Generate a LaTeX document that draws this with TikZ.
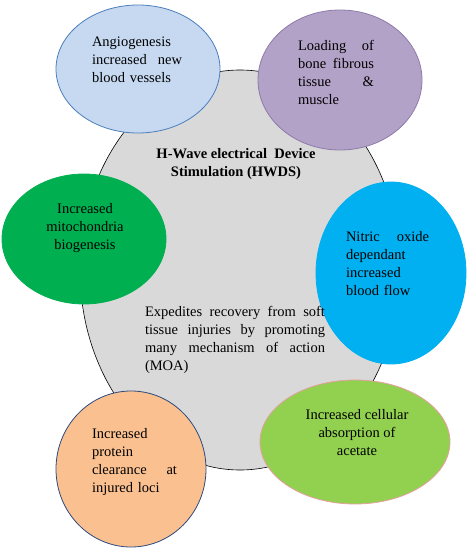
\documentclass[tikz,border=0pt]{standalone}
\usepackage{fontspec}
\setmainfont{Liberation Serif}
\usetikzlibrary{shapes.geometric}
\definecolor{hubfill}{HTML}{D9D9D9}
\definecolor{bluefill}{HTML}{C6D9F1}
\definecolor{blueline}{HTML}{4A7EBB}
\definecolor{purplefill}{HTML}{B3A2C7}
\definecolor{purpleline}{HTML}{8C7BA8}
\definecolor{greenfill}{HTML}{00B050}
\definecolor{cyanfill}{HTML}{00B0F0}
\definecolor{limefill}{HTML}{92D050}
\definecolor{limeline}{HTML}{E6A0A0}
\definecolor{orangefill}{HTML}{FAC090}
\definecolor{orangeline}{HTML}{2E4A7D}
\tikzset{
  blob/.style={ellipse, inner sep=0pt, line width=0.8pt},
  txt/.style={inner sep=0pt, font=\fontsize{14.5}{18}\selectfont, align=left},
  ctxt/.style={inner sep=0pt, font=\fontsize{14.5}{18}\selectfont, align=center},
}
\begin{document}
\begin{tikzpicture}[x=1pt,y=-1pt]
\useasboundingbox (0,0) rectangle (468,548);
% hub
\node[blob, draw=black, fill=hubfill, line width=0.6pt, minimum width=320pt, minimum height=400pt] (hub) at (240,270) {};
% satellites
\node[blob, draw=blueline, fill=bluefill, minimum width=164pt, minimum height=128pt] (angio) at (138,69) {};
\node[blob, draw=purpleline, fill=purplefill, minimum width=164pt, minimum height=140pt] (load) at (340,80) {};
\node[blob, draw=greenfill, fill=greenfill, minimum width=164pt, minimum height=130pt] (mito) at (84,239) {};
\node[blob, draw=cyanfill, fill=cyanfill, minimum width=150pt, minimum height=182pt] (nitric) at (391,273) {};
\node[blob, draw=limeline, fill=limefill, minimum width=190pt, minimum height=124pt] (acet) at (355,442) {};
\node[blob, draw=orangeline, fill=orangefill, minimum width=150pt, minimum height=156pt] (prot) at (131,469) {};
% texts
\node[txt, text width=90pt] (tangio) at (137,60) {Angiogenesis\\increased\hfill new\\blood vessels};
\node[txt, text width=76pt] (tload) at (336,72) {Loading\hfill of\\bone\hfill fibrous\\tissue\hfill \&\\muscle};
\node[ctxt] (tmito) at (85,228) {Increased\\mitochondria\\biogenesis};
\node[txt, text width=83pt] (tnitric) at (387.5,264) {Nitric\hfill oxide\\dependant\\increased\\blood flow};
\node[ctxt] (tacet) at (357,433) {Increased cellular\\absorption of\\acetate};
\node[txt, text width=85pt] (tprot) at (134.5,462) {Increased\\protein\\clearance\hfill at\\injured loci};
\node[ctxt, font=\fontsize{14.5}{18}\selectfont\bfseries] (thub) at (236,164) {H-Wave electrical\ \ Device\\Stimulation (HWDS)};
\node[txt, text width=180pt] (tmoa) at (235,339.5) {Expedites\hfill recovery\hfill from\hfill soft\\tissue\hfill injuries\hfill by\hfill promoting\\many\hfill mechanism\hfill of\hfill action\\(MOA)};
\end{tikzpicture}
\end{document}
